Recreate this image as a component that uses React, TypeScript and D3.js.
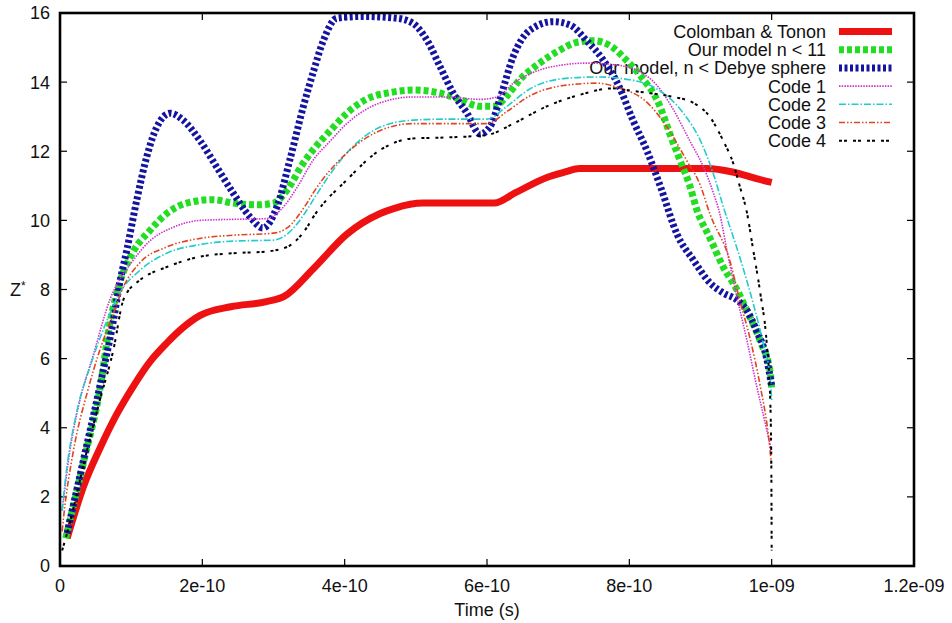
import React from "react";
import * as d3 from "d3";

// Time values are given in units of 1e-10 s, Z* is dimensionless.
const TIME_UNIT = 1e-10;

const colombanTonon: [number, number][] = [
  [0.1, 0.8], [0.33, 2.3], [0.56, 3.4], [0.8, 4.4], [1.03, 5.2], [1.26, 5.9], [1.5, 6.45],
  [1.73, 6.9], [1.97, 7.25], [2.4, 7.5], [2.9, 7.65], [3.15, 7.8], [3.56, 8.6], [4.03, 9.6],
  [4.5, 10.2], [4.7, 10.35], [5.1, 10.5], [6.1, 10.5], [6.4, 10.8], [6.85, 11.25], [7.1, 11.4],
  [7.3, 11.5], [9.1, 11.5], [9.45, 11.4], [9.8, 11.2], [10.0, 11.1],
];

const modelN11: [number, number][] = [
  [0.08, 0.8], [0.33, 3.0], [0.56, 5.1], [0.7, 7.0], [0.84, 8.2], [1.03, 9.1], [1.26, 9.7],
  [1.5, 10.2], [1.78, 10.5], [2.15, 10.6], [2.43, 10.5], [2.77, 10.45], [3.0, 10.5], [3.2, 10.9],
  [3.4, 11.6], [3.56, 12.05], [3.8, 12.6], [4.03, 13.1], [4.3, 13.5], [4.64, 13.7], [4.96, 13.77],
  [5.3, 13.7], [5.62, 13.5], [5.9, 13.3], [6.1, 13.3], [6.28, 13.6], [6.46, 14.07], [6.74, 14.55],
  [7.0, 14.9], [7.26, 15.15], [7.5, 15.2], [7.77, 15.0], [7.95, 14.65], [8.15, 14.2], [8.43, 13.3],
  [8.57, 12.5], [8.71, 11.75], [8.85, 11.0], [8.95, 10.3], [9.13, 9.5], [9.32, 8.65], [9.51, 8.0],
  [9.65, 7.4], [9.84, 6.5], [9.98, 5.6], [10.0, 5.15],
];

const modelDebye: [number, number][] = [
  [0.1, 0.95], [0.33, 3.07], [0.56, 5.2], [0.75, 7.1], [0.84, 8.2], [0.94, 9.15], [1.08, 10.6],
  [1.22, 11.85], [1.36, 12.7], [1.55, 13.1], [1.73, 12.9], [1.97, 12.3], [2.2, 11.55], [2.43, 10.8],
  [2.67, 10.1], [2.85, 9.78], [3.05, 10.4], [3.23, 11.75], [3.42, 13.3], [3.56, 14.3], [3.7, 15.2],
  [3.89, 15.85], [4.26, 15.9], [4.73, 15.85], [4.96, 15.7], [5.16, 15.2], [5.34, 14.45], [5.52, 13.7],
  [5.72, 13.1], [5.9, 12.5], [6.04, 12.7], [6.18, 13.5], [6.37, 14.75], [6.6, 15.5], [6.93, 15.75],
  [7.17, 15.65], [7.4, 15.2], [7.63, 14.65], [7.85, 13.9], [8.05, 12.9], [8.25, 12.0], [8.45, 10.9],
  [8.67, 9.6], [8.9, 8.85], [9.13, 8.2], [9.32, 7.9], [9.51, 7.7], [9.65, 7.4], [9.79, 6.8],
  [9.93, 6.0], [10.0, 5.2],
];

const code1: [number, number][] = [
  [0.03, 1.6], [0.14, 3.35], [0.28, 4.8], [0.46, 6.05], [0.7, 7.7], [1.03, 8.85], [1.26, 9.4],
  [1.59, 9.8], [1.97, 10.0], [2.43, 10.03], [2.9, 10.05], [3.1, 10.3], [3.33, 10.95], [3.56, 11.75],
  [3.8, 12.3], [4.03, 12.8], [4.5, 13.4], [4.96, 13.57], [5.44, 13.57], [5.9, 13.5], [6.14, 13.57],
  [6.37, 13.97], [6.74, 14.35], [7.07, 14.5], [7.4, 14.55], [7.8, 14.5], [8.15, 14.3], [8.39, 13.9],
  [8.62, 13.2], [8.85, 12.3], [9.04, 11.55], [9.18, 10.8], [9.27, 10.2], [9.37, 9.15], [9.51, 7.8],
  [9.65, 6.55], [9.79, 5.2], [9.93, 3.95], [10.0, 3.3],
];

const code2: [number, number][] = [
  [0.03, 1.6], [0.07, 2.4], [0.24, 4.5], [0.42, 5.75], [0.7, 7.3], [0.84, 7.9], [1.12, 8.55],
  [1.5, 9.05], [1.97, 9.3], [2.43, 9.4], [3.0, 9.43], [3.19, 9.6], [3.47, 10.3], [3.56, 10.6],
  [4.03, 11.95], [4.5, 12.7], [4.96, 12.9], [5.44, 12.93], [6.0, 12.93], [6.28, 13.3], [6.6, 13.8],
  [7.07, 14.1], [7.55, 14.15], [8.0, 14.07], [8.39, 13.8], [8.76, 13.1], [9.0, 12.3], [9.18, 11.35],
  [9.32, 10.4], [9.55, 8.95], [9.74, 7.6], [9.88, 6.45], [9.98, 5.4], [10.0, 4.8],
];

const code3: [number, number][] = [
  [0.03, 1.0], [0.05, 1.4], [0.19, 3.35], [0.38, 5.0], [0.56, 6.25], [0.75, 7.3], [0.89, 8.07],
  [1.12, 8.77], [1.5, 9.23], [1.97, 9.48], [2.43, 9.57], [3.0, 9.63], [3.19, 9.78], [3.47, 10.5],
  [3.56, 10.8], [4.03, 11.95], [4.5, 12.6], [4.96, 12.8], [5.44, 12.8], [6.0, 12.8], [6.28, 13.15],
  [6.6, 13.6], [7.07, 13.9], [7.55, 13.97], [7.87, 13.82], [8.2, 13.5], [8.53, 12.7], [8.8, 11.75],
  [9.0, 11.0], [9.13, 10.2], [9.41, 8.85], [9.55, 7.7], [9.7, 6.55], [9.84, 5.2], [9.95, 3.85],
  [10.0, 2.9],
];

const code4: [number, number][] = [
  [0.03, 0.45], [0.1, 0.95], [0.38, 3.35], [0.56, 4.8], [0.75, 6.25], [0.89, 7.7], [0.94, 7.9],
  [1.12, 8.27], [1.5, 8.65], [1.97, 8.95], [2.43, 9.05], [2.9, 9.1], [3.19, 9.23], [3.47, 9.8],
  [3.56, 10.1], [4.03, 11.17], [4.5, 12.04], [4.96, 12.37], [5.44, 12.4], [6.0, 12.47], [6.37, 12.8],
  [6.84, 13.3], [7.3, 13.63], [7.77, 13.82], [7.96, 13.77], [8.29, 13.68], [8.62, 13.57], [8.9, 13.4],
  [9.13, 13.0], [9.32, 12.3], [9.46, 11.65], [9.55, 11.0], [9.65, 10.25], [9.74, 9.15], [9.84, 7.9],
  [9.93, 6.45], [9.98, 4.8], [9.995, 2.9], [10.0, 0.45],
];

const xTickValues = [0, 2e-10, 4e-10, 6e-10, 8e-10, 1e-9, 1.2e-9];
const xTickLabels = ["0", "2e-10", "4e-10", "6e-10", "8e-10", "1e-09", "1.2e-09"];
const yTickValues = [0, 2, 4, 6, 8, 10, 12, 14, 16];

const seriesNames = [
  "Colomban & Tonon",
  "Our model n < 11",
  "Our model, n < Debye sphere",
  "Code 1",
  "Code 2",
  "Code 3",
  "Code 4",
];

type Style = { color: string; width: number; dash?: string };

const seriesStyles: Style[] = [
  { color: "#ee1111", width: 7 },
  { color: "#22dd22", width: 7, dash: "5,3" },
  { color: "#1414a0", width: 7, dash: "3,2.5" },
  { color: "#cc33cc", width: 1.6, dash: "1.5,1.2" },
  { color: "#22cccc", width: 1.6, dash: "7,2,1.5,2" },
  { color: "#e04422", width: 1.6, dash: "6,2,1.5,2,1.5,2" },
  { color: "#000000", width: 2, dash: "3,2,3,6" },
];

const seriesData = [colombanTonon, modelN11, modelDebye, code1, code2, code3, code4];

const WIDTH = 952;
const HEIGHT = 623;
const M = { left: 60, top: 13, right: 38, bottom: 57 };
const FONT = "'Liberation Sans', Arial, Helvetica, sans-serif";
const FONT_SIZE = 18;

export default function App() {
  const x = d3
    .scaleLinear()
    .domain([0, 1.2e-9])
    .range([M.left, WIDTH - M.right]);
  const y = d3
    .scaleLinear()
    .domain([0, 16])
    .range([HEIGHT - M.bottom, M.top]);

  const line = d3
    .line<[number, number]>()
    .x((d) => x(d[0] * TIME_UNIT))
    .y((d) => y(d[1]))
    .curve(d3.curveMonotoneX);

  const left = M.left;
  const right = WIDTH - M.right;
  const top = M.top;
  const bottom = HEIGHT - M.bottom;
  const tickLen = 7;

  const legendTextX = 826;
  const legendX0 = 839;
  const legendX1 = 892;
  const legendY0 = 31.5;
  const legendDy = 18.2;

  return (
    <svg
      width={WIDTH}
      height={HEIGHT}
      style={{ position: "absolute", left: 0, top: 0, background: "#fff" }}
      fontFamily={FONT}
    >
      <rect x={0} y={0} width={WIDTH} height={HEIGHT} fill="#fff" />

      {/* ticks, mirrored on all four sides */}
      <g stroke="#000" strokeWidth={1.2}>
        {xTickValues.map((v, i) => (
          <g key={"xt" + i}>
            <line x1={x(v)} x2={x(v)} y1={bottom} y2={bottom - tickLen} />
            <line x1={x(v)} x2={x(v)} y1={top} y2={top + tickLen} />
          </g>
        ))}
        {yTickValues.map((v, i) => (
          <g key={"yt" + i}>
            <line x1={left} x2={left + tickLen} y1={y(v)} y2={y(v)} />
            <line x1={right} x2={right - tickLen} y1={y(v)} y2={y(v)} />
          </g>
        ))}
      </g>

      {/* tick labels */}
      <g fontSize={FONT_SIZE} fill="#111">
        {xTickValues.map((v, i) => (
          <text key={"xl" + i} x={x(v)} y={592} textAnchor="middle">
            {xTickLabels[i]}
          </text>
        ))}
        {yTickValues.map((v, i) => (
          <text key={"yl" + i} x={50} y={y(v)} dy="0.36em" textAnchor="end">
            {String(v)}
          </text>
        ))}
      </g>

      {/* axis titles */}
      <text x={(left + right) / 2} y={616} textAnchor="middle" fontSize={FONT_SIZE} fill="#111">
        Time (s)
      </text>
      <text x={10} y={y(8)} dy="0.36em" fontSize={FONT_SIZE} fill="#111">
        Z<tspan fontSize={12} dy={-6}>*</tspan>
      </text>

      {/* key */}
      <g fontSize={FONT_SIZE} fill="#111">
        {seriesNames.map((name, i) => {
          const ly = legendY0 + i * legendDy;
          const s = seriesStyles[i];
          return (
            <g key={"lg" + i}>
              <text x={legendTextX} y={ly} dy="0.36em" textAnchor="end">
                {name}
              </text>
              <line
                x1={legendX0}
                x2={legendX1}
                y1={ly}
                y2={ly}
                stroke={s.color}
                strokeWidth={s.width}
                strokeDasharray={s.dash}
              />
            </g>
          );
        })}
      </g>

      {/* curves */}
      <g fill="none">
        {seriesData.map((data, i) => {
          const s = seriesStyles[i];
          return (
            <path
              key={"s" + i}
              d={line(data) || ""}
              stroke={s.color}
              strokeWidth={s.width}
              strokeDasharray={s.dash}
              strokeLinejoin="round"
            />
          );
        })}
      </g>

      {/* frame */}
      <rect
        x={left}
        y={top}
        width={right - left}
        height={bottom - top}
        fill="none"
        stroke="#000"
        strokeWidth={2.6}
      />
    </svg>
  );
}
